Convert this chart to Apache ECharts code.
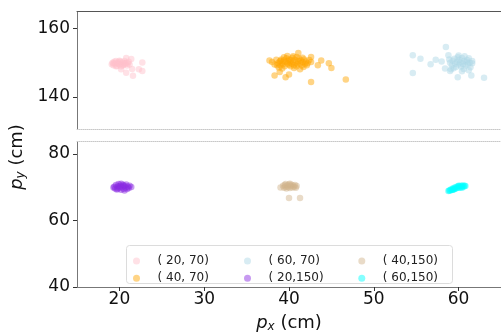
<!DOCTYPE html>
<html>
<head>
<meta charset="utf-8">
<script src="https://cdn.jsdelivr.net/npm/echarts@6/dist/echarts.min.js"></script>
<style>
  html, body { margin: 0; padding: 0; background: #fff; }
  #main { width: 501px; height: 335px; }
</style>
</head>
<body>
<div id="main"></div>
<script>
// cluster points: [px, py]
const p20_70 = [[19.1,149.6],[19.2,150.0],[19.3,149.3],[19.4,150.3],[19.5,149.8],[19.6,150.5],[19.7,149.1],[19.8,149.9],[19.9,150.2],[20.0,149.5],[20.1,150.4],[20.2,149.0],[20.3,149.8],[20.4,150.1],[20.5,149.4],[20.6,150.5],[20.7,149.7],[20.8,150.0],[20.9,149.2],[21.0,149.8],[21.1,150.3],[19.6,149.0],[20.0,150.6],[20.4,149.2],[21.2,149.5],[19.9,149.7],[20.6,149.9],[19.3,149.9],
  [22.7,150.1],[22.7,147.6],[22.3,148.1],[21.6,146.2],[20.8,147.1],[20.8,151.4],[21.4,151.1],[21.5,148.2],[20.2,148.1]];
const p40_70 = [[37.7,150.7],[38.0,150.2],[38.3,149.5],[38.5,150.9],[38.7,149.9],[38.9,150.4],[39.0,149.2],[39.1,151.0],[39.2,150.0],[39.3,149.6],[39.4,150.7],[39.5,149.0],[39.6,150.3],[39.7,151.3],[39.8,149.8],[39.9,150.5],[40.0,149.4],[40.0,151.0],[40.1,150.1],[40.2,150.8],[40.3,149.7],[40.4,151.5],[40.5,150.3],[40.6,149.3],[40.7,150.9],[40.8,150.0],[40.9,151.7],[41.0,149.6],[41.1,150.5],[41.2,151.2],[41.3,149.9],[41.4,150.7],[41.5,149.2],[41.6,150.2],[41.8,151.0],[41.9,149.7],[42.0,150.4],[42.2,149.9],[42.4,150.8],[42.6,150.2],[40.5,151.9],[39.8,152.0],[38.8,148.6],[39.2,148.3],[40.6,148.5],[41.3,148.1],[41.7,148.8],
  [39.4,151.6],[40.2,149.0],[40.9,149.0],[41.6,151.5],[39.0,150.6],[38.6,149.3],[42.1,149.3],
  [38.3,146.3],[39.6,145.8],[38.9,147.3],[41.1,152.9],[42.6,144.4],[46.7,145.1],[43.8,150.7],[44.7,149.9],[45.0,148.5],[43.4,149.3],[42.6,151.7],[40.0,146.6]];
const p60_70 = [[59.0,150.0],[59.2,149.3],[59.3,150.6],[59.5,151.2],[59.6,149.8],[59.7,148.8],[59.8,150.3],[59.9,151.6],[60.0,149.5],[60.1,150.9],[60.2,150.1],[60.3,148.9],[60.4,151.4],[60.5,149.7],[60.6,150.5],[60.7,151.9],[60.8,149.2],[60.9,150.2],[61.0,150.8],[61.1,149.6],[61.2,151.3],[61.3,150.0],[61.4,148.7],[60.0,152.1],[59.4,148.4],[60.6,148.2],[61.6,149.9],[58.9,151.0],[59.1,148.1],[60.4,147.5],
  [54.6,152.2],[54.6,147.0],[55.5,151.2],[56.7,149.6],[57.3,150.9],[58.0,150.4],[58.5,154.6],[59.9,145.8],[61.5,146.3],[63.0,145.6],[61.2,147.8],[58.4,148.3],[59.0,147.6],[58.8,152.2],[61.6,150.5]];
const p20_150 = [[19.4,70.1],[19.5,69.6],[19.6,70.6],[19.7,69.3],[19.8,70.2],[19.9,70.9],[20.0,69.8],[20.1,70.4],[20.2,69.2],[20.3,70.0],[20.4,70.7],[20.5,69.5],[20.6,70.3],[20.7,69.9],[20.8,70.8],[20.9,69.4],[21.0,70.1],[21.1,69.7],[21.2,70.4],[20.2,71.0],[20.5,70.5],[19.8,69.5],[20.0,70.2],[20.6,69.0],[21.4,70.0],[19.3,69.9]];
const p40_150 = [[39.0,69.9],[39.3,70.4],[39.4,69.8],[39.5,70.6],[39.6,70.1],[39.7,69.6],[39.8,70.5],[39.9,70.0],[40.0,70.8],[40.1,69.7],[40.2,70.3],[40.3,70.7],[40.4,69.9],[40.5,70.4],[40.6,70.0],[40.7,70.6],[40.8,69.8],[40.9,70.3],[40.1,71.0],[39.6,70.9],[40.0,66.7],[41.3,66.7]];
const p60_150 = [[58.8,68.8],[59.0,69.0],[59.1,69.3],[59.2,69.1],[59.3,69.6],[59.4,69.3],[59.5,69.8],[59.6,69.5],[59.7,70.0],[59.8,69.7],[59.9,70.2],[60.0,69.8],[60.1,70.3],[60.2,69.9],[60.3,70.4],[60.4,70.1],[60.5,70.5],[60.6,70.2],[60.7,70.4],[60.8,70.3],[59.5,69.4],[60.0,70.4],[59.3,69.2],[60.4,69.8],[58.9,69.0]];

const xTicks = [20, 30, 40, 50, 60];
const yTicksTop = [140, 160];
const yTicksBottom = [40, 60, 80];

const FONT = 'DejaVu Sans';
const spine = '#777';

const myChart = echarts.init(document.getElementById('main'));

function scatter(name, data, color, panel) {
  return {
    name: name, type: 'scatter', data: data,
    xAxisIndex: panel === 0 ? 0 : 2, yAxisIndex: panel,
    symbolSize: 6.5,
    itemStyle: { color: color },
    emphasis: { disabled: true }
  };
}

function yAxis(grid, min, max, ticks) {
  return {
    type: 'value', gridIndex: grid, min: min, max: max,
    axisLine: { show: true, lineStyle: { color: spine, width: 1 } },
    axisTick: { show: true, length: 4, customValues: ticks, lineStyle: { color: '#333' } },
    axisLabel: { customValues: ticks, fontFamily: FONT, fontSize: 17, color: '#111', margin: 7 },
    splitLine: { show: false }
  };
}

function dottedX(grid, pos) {
  return {
    type: 'value', gridIndex: grid, min: 15, max: 65, position: pos,
    axisLine: { show: true, onZero: false, lineStyle: { color: '#c8c8c8', type: [1, 1], width: 1 } },
    axisTick: { show: false }, axisLabel: { show: false }, splitLine: { show: false }
  };
}

const legendText = { fontFamily: FONT, fontSize: 12, color: '#222', lineHeight: 14 };
function legendCol(left, names) {
  return {
    orient: 'vertical', left: left, top: 249, data: names,
    icon: 'circle', itemWidth: 32, itemHeight: 7, itemGap: 3.3,
    textStyle: legendText, selectedMode: false
  };
}

const option = {
  animation: false,
  grid: [
    { left: 77, top: 11.5, width: 426, height: 118 },
    { left: 77, top: 141.5, width: 426, height: 148.5 }
  ],
  xAxis: [
    dottedX(0, 'bottom'),
    {
      type: 'value', gridIndex: 0, min: 15, max: 65, position: 'top',
      axisLine: { show: true, onZero: false, lineStyle: { color: '#555', width: 1 } },
      axisTick: { show: false }, axisLabel: { show: false }, splitLine: { show: false }
    },
    {
      type: 'value', gridIndex: 1, min: 15, max: 65, position: 'bottom',
      axisLine: { show: true, onZero: false, lineStyle: { color: spine, width: 1 } },
      axisTick: { show: true, length: 4, customValues: xTicks, lineStyle: { color: '#333' } },
      axisLabel: { customValues: xTicks, fontFamily: FONT, fontSize: 17, color: '#111', margin: 4 },
      splitLine: { show: false },
      name: '{p|p}{s|x}{n| (cm)}', nameLocation: 'middle', nameGap: 25,
      nameTextStyle: {
        rich: {
          p: { fontFamily: FONT, fontSize: 18, fontStyle: 'italic', color: '#111', lineHeight: 22 },
          s: { fontFamily: FONT, fontSize: 12, fontStyle: 'italic', color: '#111', lineHeight: 22, verticalAlign: 'bottom', height: 14 },
          n: { fontFamily: FONT, fontSize: 18, color: '#111', lineHeight: 22 }
        }
      }
    },
    dottedX(1, 'top')
  ],
  yAxis: [
    yAxis(0, 130.5, 165, yTicksTop),
    yAxis(1, 40, 83.7, yTicksBottom)
  ],
  legend: [
    legendCol(128, ['( 20, 70)', '( 40, 70)']),
    legendCol(239, ['( 60, 70)', '( 20,150)']),
    legendCol(353.3, ['( 40,150)', '( 60,150)'])
  ],
  graphic: [
    {
      type: 'rect', z: 0,
      shape: { x: 126.5, y: 245.5, width: 326, height: 38, r: 3 },
      style: { fill: 'rgba(255,255,255,0.8)', stroke: '#dcdcdc', lineWidth: 1 }
    },
    {
      type: 'text', x: 17, y: 157, rotation: Math.PI / 2,
      style: {
        text: '{p|p}{s|y}{n| (cm)}', align: 'center', verticalAlign: 'middle',
        rich: {
          p: { fontFamily: FONT, fontSize: 18, fontStyle: 'italic', fill: '#111', lineHeight: 22 },
          s: { fontFamily: FONT, fontSize: 12, fontStyle: 'italic', fill: '#111', lineHeight: 22, verticalAlign: 'bottom', height: 14 },
          n: { fontFamily: FONT, fontSize: 18, fill: '#111', lineHeight: 22 }
        }
      }
    }
  ],
  series: [
    scatter('( 20, 70)', p20_70, 'rgba(255,192,203,0.6)', 0),
    scatter('( 40, 70)', p40_70, 'rgba(255,165,0,0.6)', 0),
    scatter('( 60, 70)', p60_70, 'rgba(173,216,230,0.6)', 0),
    scatter('( 20,150)', p20_150, 'rgba(138,43,226,0.6)', 1),
    scatter('( 40,150)', p40_150, 'rgba(210,180,140,0.6)', 1),
    scatter('( 60,150)', p60_150, 'rgba(0,255,255,0.6)', 1)
  ]
};

myChart.setOption(option);
</script>
</body>
</html>
